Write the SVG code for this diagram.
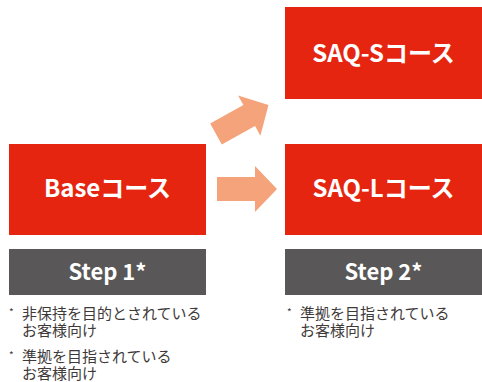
<svg xmlns="http://www.w3.org/2000/svg" width="482" height="382" viewBox="0 0 482 382">
<style>
.course{fill:#E62511}
.step{fill:#595757}
.arrow{fill:#F4A37A}
.t{font-family:"Noto Sans CJK JP","Noto Sans",sans-serif;font-weight:bold;fill:#fff;text-anchor:middle}
.ct{font-size:24px}
.st{font-size:22px}
.note{font-family:"Noto Sans CJK JP","Noto Sans",sans-serif;font-size:15px;fill:#3e3a39}
.ast{font-size:10px}
</style>
<rect width="482" height="382" fill="#fff"/>
<g id="connectors">
<path class="arrow" d="M0,-12 L38,-12 L38,-23 L60,0 L38,23 L38,12 L0,12 Z" transform="translate(217,189)"/>
<path class="arrow" d="M0,-12 L38,-12 L38,-23 L60,0 L38,23 L38,12 L0,12 Z" transform="translate(216,134) rotate(-29)"/>
</g>
<g id="base">
<rect class="course" x="9" y="144" width="197" height="91"/>
<text class="t ct" x="107.5" y="197">Baseコース</text>
</g>
<g id="saq-s">
<rect class="course" x="285" y="7" width="197" height="92"/>
<text class="t ct" x="383.5" y="62">SAQ-Sコース</text>
</g>
<g id="saq-l">
<rect class="course" x="285" y="144" width="197" height="91"/>
<text class="t ct" x="383.5" y="197">SAQ-Lコース</text>
</g>
<g id="step1">
<rect class="step" x="9" y="249" width="197" height="46"/>
<text class="t st" x="107.5" y="280">Step 1*</text>
</g>
<g id="step2">
<rect class="step" x="285" y="249" width="197" height="46"/>
<text class="t st" x="383.5" y="280">Step 2*</text>
</g>
<g id="note1">
<text class="note ast" x="9" y="316">*</text>
<text class="note" x="22" y="319">非保持を目的とされている</text>
<text class="note" x="22" y="336">お客様向け</text>
<text class="note ast" x="9" y="359">*</text>
<text class="note" x="22" y="362">準拠を目指されている</text>
<text class="note" x="22" y="379">お客様向け</text>
</g>
<g id="note2">
<text class="note ast" x="287" y="316">*</text>
<text class="note" x="300" y="319">準拠を目指されている</text>
<text class="note" x="300" y="336">お客様向け</text>
</g>
</svg>
